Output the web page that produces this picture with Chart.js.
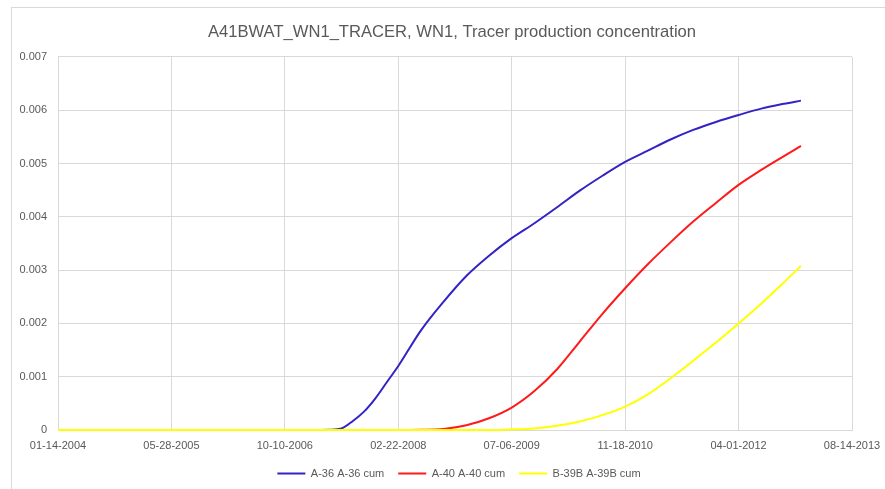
<!DOCTYPE html>
<html>
<head>
<meta charset="utf-8">
<script src="https://cdn.jsdelivr.net/npm/chart.js@4.4.1/dist/chart.umd.min.js"></script>
<style>
  html, body { margin: 0; padding: 0; background: #ffffff; }
  #wrap { position: relative; width: 885px; height: 489px; overflow: hidden; }
  #frame { position: absolute; left: 11px; top: 7px; width: 900px; height: 520px;
           border-left: 1px solid #d9d9d9; border-top: 1px solid #d9d9d9; }
  canvas { position: absolute; left: 0; top: 0; }
</style>
</head>
<body>
<div id="wrap">
  <div id="frame"></div>
  <canvas id="c" width="885" height="489"></canvas>
</div>
<script>
const chartTitle = 'A41BWAT_WN1_TRACER, WN1, Tracer production concentration';
const seriesNames = ['A-36 A-36 cum', 'A-40 A-40 cum', 'B-39B A-39B cum'];
const seriesColors = ['#3323c4', '#ff1a1a', '#ffff00'];

const dates = [
  '2004-01-14','2005-05-28','2006-10-10','2007-01-18','2007-04-28','2007-06-17',
  '2007-08-06','2007-09-25','2007-11-14','2008-01-03','2008-02-22','2008-06-01',
  '2008-09-09','2008-12-18','2009-03-28','2009-07-06','2009-10-14','2010-01-22',
  '2010-05-02','2010-08-10','2010-11-18','2011-02-26','2011-06-06','2011-09-14',
  '2011-12-23','2012-04-01','2012-07-10','2012-10-18','2013-01-01'
];
const a36 = [
  0, 0, 0, 0, 0.000005, 0.00003,
  0.00017, 0.00035, 0.0006, 0.0009, 0.0012, 0.00187,
  0.00241, 0.00289, 0.00327, 0.0036, 0.00388, 0.00418,
  0.00449, 0.00477, 0.00503, 0.00524, 0.00545, 0.00563,
  0.00578, 0.00591, 0.00603, 0.00612, 0.00618
];
const a40 = [
  0, 0, 0, 0, 0, 0,
  0, 0, 0, 0, 0, 0.000005,
  0.00002, 0.00009, 0.00022, 0.00042, 0.00073, 0.00114,
  0.00166, 0.00218, 0.00266, 0.00311, 0.00352, 0.00391,
  0.00426, 0.0046, 0.00488, 0.00514, 0.00533
];
const b39b = [
  0, 0, 0, 0, 0, 0,
  0, 0, 0, 0, 0, 0,
  0, 0, 0, 0.00001, 0.00003, 0.00008,
  0.00016, 0.00028, 0.00044, 0.00067, 0.00097, 0.0013,
  0.00164, 0.002, 0.00237, 0.00277, 0.00308
];

const base = Date.UTC(2004, 0, 14);
function toDay(s) {
  const p = s.split('-').map(Number);
  return Math.round((Date.UTC(p[0], p[1] - 1, p[2]) - base) / 86400000);
}
function dayLabel(d) {
  const dt = new Date(base + d * 86400000);
  const mm = String(dt.getUTCMonth() + 1).padStart(2, '0');
  const dd = String(dt.getUTCDate()).padStart(2, '0');
  return mm + '-' + dd + '-' + dt.getUTCFullYear();
}
const xs = dates.map(toDay);
function pts(vals) { return vals.map((v, i) => ({ x: xs[i], y: v })); }

const allSeries = [a36, a40, b39b];
const datasets = allSeries.map((vals, i) => ({
  label: seriesNames[i],
  data: pts(vals),
  borderColor: seriesColors[i],
  backgroundColor: seriesColors[i],
  borderWidth: 2,
  pointRadius: 0,
  cubicInterpolationMode: 'monotone',
  fill: false,
  clip: false,
  order: 2 - i
}));

const txt = '#595959';
const grid = '#d9d9d9';
Chart.defaults.font.family = '"Liberation Sans", Arial, sans-serif';

const shiftBoxes = {
  id: 'shiftBoxes',
  afterLayout(chart) {
    const t = chart.titleBlock;
    if (t) { t.left = 19; t.right = 885; }
    const lg = chart.legend;
    if (lg) { lg.left += 33; lg.right += 33; lg.top += 1; lg.bottom += 1; }
  }
};

new Chart(document.getElementById('c'), {
  type: 'line',
  data: { datasets },
  plugins: [shiftBoxes],
  options: {
    responsive: false,
    animation: false,
    devicePixelRatio: 1,
    layout: { padding: { left: 0, right: 33, top: 0, bottom: 1 } },
    plugins: {
      title: {
        display: true,
        text: chartTitle,
        color: txt,
        font: { size: 16.6, weight: 'normal' },
        padding: { top: 22, bottom: 15 }
      },
      legend: {
        position: 'bottom',
        labels: {
          color: txt,
          font: { size: 11 },
          usePointStyle: true,
          pointStyle: 'line',
          pointStyleWidth: 28,
          boxHeight: 11,
          padding: 14,
          sort: (a, b) => a.datasetIndex - b.datasetIndex
        }
      },
      tooltip: { enabled: false }
    },
    scales: {
      x: {
        type: 'linear',
        min: 0,
        max: 3500,
        ticks: {
          stepSize: 500,
          color: txt,
          font: { size: 11 },
          padding: 9,
          maxRotation: 0,
          autoSkip: false,
          callback: (v) => dayLabel(v)
        },
        grid: { color: grid, drawTicks: false },
        border: { color: grid },
        afterFit: (s) => { s.height = 23; s.paddingRight = 0; s.paddingLeft = 0; }
      },
      y: {
        min: 0,
        max: 0.007,
        ticks: {
          stepSize: 0.001,
          color: txt,
          font: { size: 11 },
          padding: 11,
          callback: (v) => (v === 0 ? '0' : v.toFixed(3))
        },
        grid: { color: grid, drawTicks: false },
        border: { display: false },
        afterFit: (s) => { s.width = 58; }
      }
    }
  }
});
</script>
</body>
</html>
